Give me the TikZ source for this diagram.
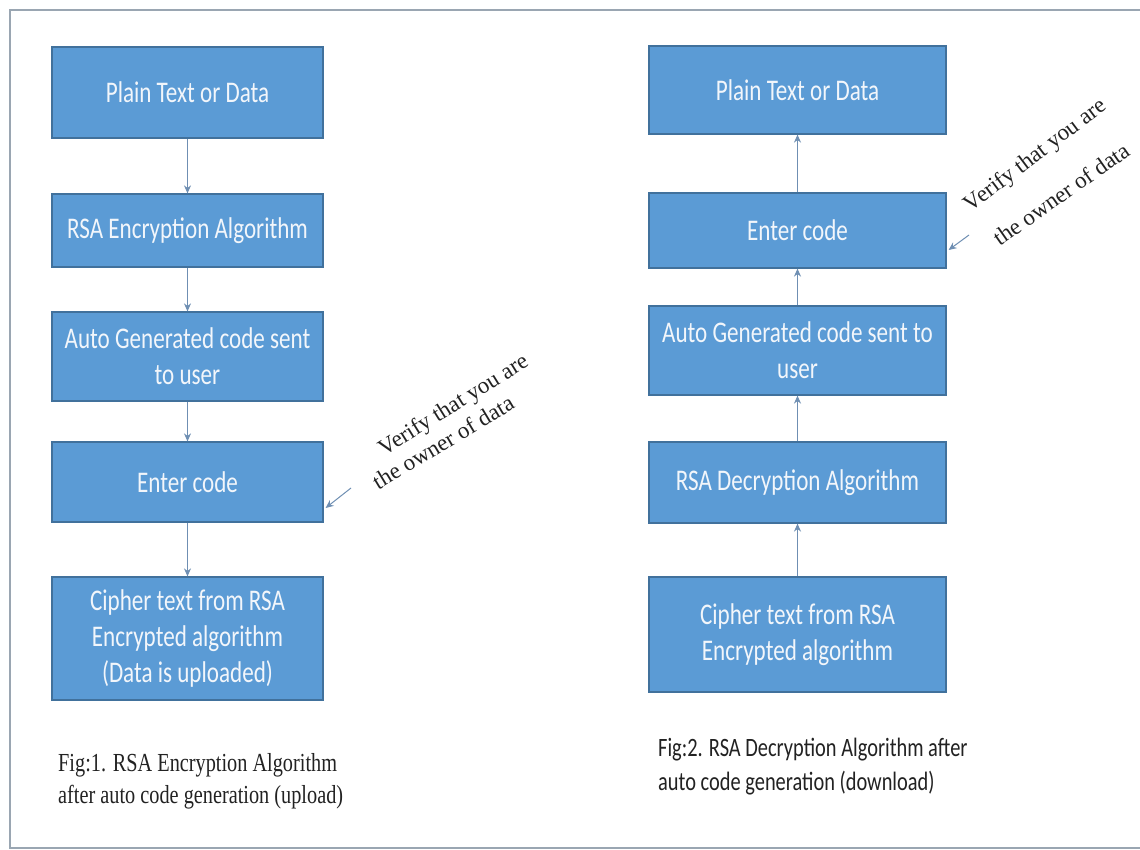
\documentclass[tikz,border=0pt]{standalone}
\usepackage{fontspec}
\usetikzlibrary{arrows.meta,calc}
\newfontfamily\boxfont[FakeStretch=0.77]{Carlito}
\newfontfamily\capserif[FakeStretch=0.78]{Liberation Serif}
\newfontfamily\annserif{Liberation Serif}
\definecolor{boxfill}{HTML}{5B9BD5}
\definecolor{boxline}{HTML}{41719C}
\definecolor{boxtext}{HTML}{F2F6FB}
\definecolor{conn}{HTML}{6F8FB3}
\definecolor{frame}{HTML}{9AA6B2}
\definecolor{ink}{HTML}{222222}
\tikzset{
  flowbox/.style={draw=boxline, fill=boxfill, line width=1.2pt, text=boxtext,
    font=\boxfont\fontsize{30}{36}\selectfont, align=center, inner sep=0pt,
    minimum width=#1},
  lbox/.style={flowbox=271pt},
  rbox/.style={flowbox=297pt},
  flowarrow/.style={draw=conn, line width=1.3pt, -{Stealth[length=8pt,width=7pt]}},
  annot/.style={text=ink, font=\annserif\fontsize{23}{26}\selectfont, inner sep=0pt},
}
\begin{document}
\begin{tikzpicture}[x=1pt,y=-1pt]
\useasboundingbox (0,0) rectangle (1140,850);
\fill[white] (0,0) rectangle (1140,850);
\draw[frame, line width=1.6pt] (1140,10) -- (10,10) -- (10,848) -- (1140,848);

% left column
\node[lbox, minimum height=91pt]  (lp) at (187.5,92.5)  {Plain Text or Data};
\node[lbox, minimum height=73pt]  (lr) at (187.5,230.5) {RSA Encryption Algorithm};
\node[lbox, minimum height=89pt]  (la) at (187.5,356.5) {Auto Generated code sent\\to user};
\node[lbox, minimum height=80pt]  (le) at (187.5,482)   {Enter code};
\node[lbox, minimum height=123pt] (lc) at (187.5,638.5) {Cipher text from RSA\\Encrypted algorithm\\(Data is uploaded)};

\draw[flowarrow] (lp) -- (lr);
\draw[flowarrow] (lr) -- (la);
\draw[flowarrow] (la) -- (le);
\draw[flowarrow] (le) -- (lc);

% right column
\node[rbox, minimum height=88pt]  (rp) at (797.5,90)    {Plain Text or Data};
\node[rbox, minimum height=75pt]  (re) at (797.5,230.5) {Enter code};
\node[rbox, minimum height=89pt]  (ra) at (797.5,350.5) {Auto Generated code sent to\\user};
\node[rbox, minimum height=81pt]  (rd) at (797.5,482.5) {RSA Decryption Algorithm};
\node[rbox, minimum height=115pt] (rc) at (797.5,634.5) {Cipher text from RSA\\Encrypted algorithm};

\draw[flowarrow] (rc) -- (rd);
\draw[flowarrow] (rd) -- (ra);
\draw[flowarrow] (ra) -- (re);
\draw[flowarrow] (re) -- (rp);

% annotations
\node[annot, rotate=32] (lv1) at (454,406) {Verify that you are};
\node[annot, rotate=31] (lv2) at (443,442) {the owner of data};
\coordinate (lastart) at (351,488);
\draw[flowarrow, line width=1pt] (lastart) -- ($(le.east)+(2,26)$);

\node[annot, rotate=37] (rv1) at (1036,156) {Verify that you are};
\node[annot, rotate=35] (rv2) at (1061,194) {the owner of data};
\coordinate (rastart) at (969,235);
\draw[flowarrow, line width=1pt] (rastart) -- ($(re.east)+(2,19.5)$);

% captions
\node[anchor=west, align=left, text=ink, inner sep=0pt,
  font=\capserif\fontsize{26}{32}\selectfont] (cap1) at (58,781)
  {Fig:1. RSA Encryption Algorithm\\after auto code generation (upload)};
\node[anchor=west, align=left, text=ink, inner sep=0pt,
  font=\boxfont\fontsize{26.5}{34}\selectfont] (cap2) at (658,767)
  {Fig:2. RSA Decryption Algorithm after\\auto code generation (download)};
\end{tikzpicture}
\end{document}
